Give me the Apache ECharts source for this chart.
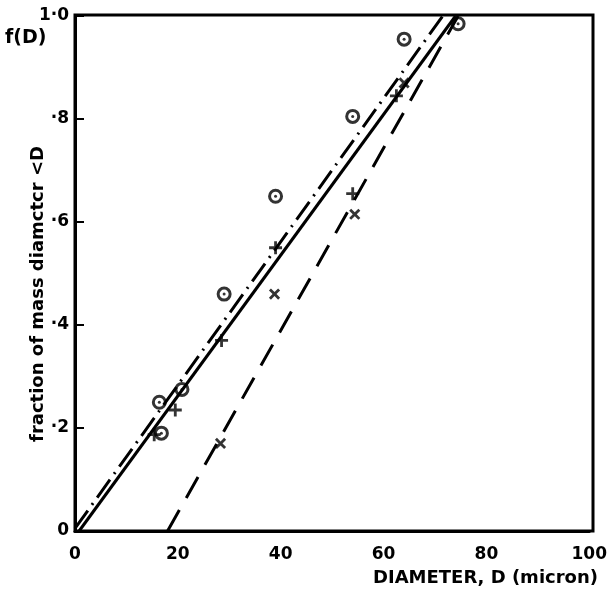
<!DOCTYPE html>
<html>
<head>
<meta charset="utf-8">
<script src="https://cdn.jsdelivr.net/npm/echarts@6/dist/echarts.min.js"></script>
<style>
  html, body { margin: 0; padding: 0; background: #fff; }
  #chart { width: 610px; height: 599px; }
</style>
</head>
<body>
<div id="chart"></div>
<script>
// measured points (diameter in micron, fraction of mass < D)
const circlePoints = [[16.8, 0.19], [16.4, 0.25], [20.8, 0.275], [29, 0.46], [39, 0.65], [54, 0.805], [64, 0.955], [74.5, 0.985]]
const plusPoints = [[15.4, 0.187], [19.5, 0.235], [28.5, 0.37], [39, 0.55], [54, 0.655], [62.5, 0.845]]
const crossPoints = [[28.3, 0.17], [38.8, 0.46], [54.4, 0.615], [64, 0.87]]

// fitted lines
const solidLine = [[0.8, 0], [74, 1.0]]
const dashDotLine = [[0, 0.005], [71.5, 1.0]]
const dashedLine = [[18, 0], [74.5, 1.0]]

const yTickLabels = { 0: '0', 0.2: '·2', 0.4: '·4', 0.6: '·6', 0.8: '·8', 1: '1·0' }

const font = 'DejaVu Sans'
const plusPath = 'path://M-1.3,-6h2.6v4.7h4.7v2.6h-4.7v4.7h-2.6v-4.7h-4.7v-2.6h4.7z'

const chart = echarts.init(document.getElementById('chart'))
chart.setOption({
  backgroundColor: '#fff',
  animation: false,
  grid: { left: 75, top: 16, right: 17, bottom: 68 },
  xAxis: {
    type: 'value',
    min: 0,
    max: 100,
    interval: 20,
    axisLine: { show: true, lineStyle: { color: '#000', width: 3 } },
    axisTick: { show: false },
    splitLine: { show: false },
    axisLabel: { color: '#000', fontFamily: font, fontWeight: 'bold', fontSize: 17, margin: 15 }
  },
  yAxis: {
    type: 'value',
    min: 0,
    max: 1,
    interval: 0.2,
    axisLine: { show: true, lineStyle: { color: '#000', width: 3 } },
    axisTick: { show: true, inside: true, length: 9, lineStyle: { color: '#000', width: 2 } },
    splitLine: { show: false },
    axisLabel: {
      color: '#000', fontFamily: font, fontWeight: 'bold', fontSize: 17, margin: 6,
      formatter: v => yTickLabels[Math.round(v * 10) / 10] || ''
    }
  },
  graphic: [
    { type: 'rect', shape: { x: 75, y: 15, width: 518, height: 516 }, style: { fill: 'none', stroke: '#000', lineWidth: 3 }, silent: true },
    { type: 'text', left: 5, top: 29, style: { text: 'f(D)', fill: '#000', font: 'bold 19px "DejaVu Sans"' } },
    {
      type: 'text', x: 38, y: 294, rotation: Math.PI / 2,
      style: { text: 'fraction of mass diamctcr <D', fill: '#000', font: 'bold 18px "DejaVu Sans"', align: 'center', verticalAlign: 'middle' }
    },
    {
      type: 'text', x: 598, y: 578,
      style: { text: 'DIAMETER, D (micron)', fill: '#000', font: 'bold 18px "DejaVu Sans"', align: 'right', verticalAlign: 'middle' }
    }
  ],
  series: [
    {
      type: 'line', data: solidLine, symbol: 'none',
      lineStyle: { color: '#000', width: 3, type: 'solid' }
    },
    {
      type: 'line', data: dashDotLine, symbol: 'none',
      lineStyle: { color: '#000', width: 3, type: [22, 7, 2, 7] }
    },
    {
      type: 'line', data: dashedLine, symbol: 'none',
      lineStyle: { color: '#000', width: 3, type: [24, 14] }
    },
    {
      type: 'scatter', data: circlePoints, symbol: 'circle', symbolSize: 12,
      itemStyle: { color: '#fff', borderColor: '#000', borderWidth: 3 }
    },
    {
      type: 'scatter', data: circlePoints, symbol: 'circle', symbolSize: 3,
      itemStyle: { color: '#000' }
    },
    {
      type: 'scatter', data: plusPoints, symbol: plusPath, symbolSize: 13,
      itemStyle: { color: '#000' }
    },
    {
      type: 'scatter', data: crossPoints, symbol: plusPath, symbolSize: 13, symbolRotate: 45,
      itemStyle: { color: '#000' }
    }
  ]
})
</script>
</body>
</html>
